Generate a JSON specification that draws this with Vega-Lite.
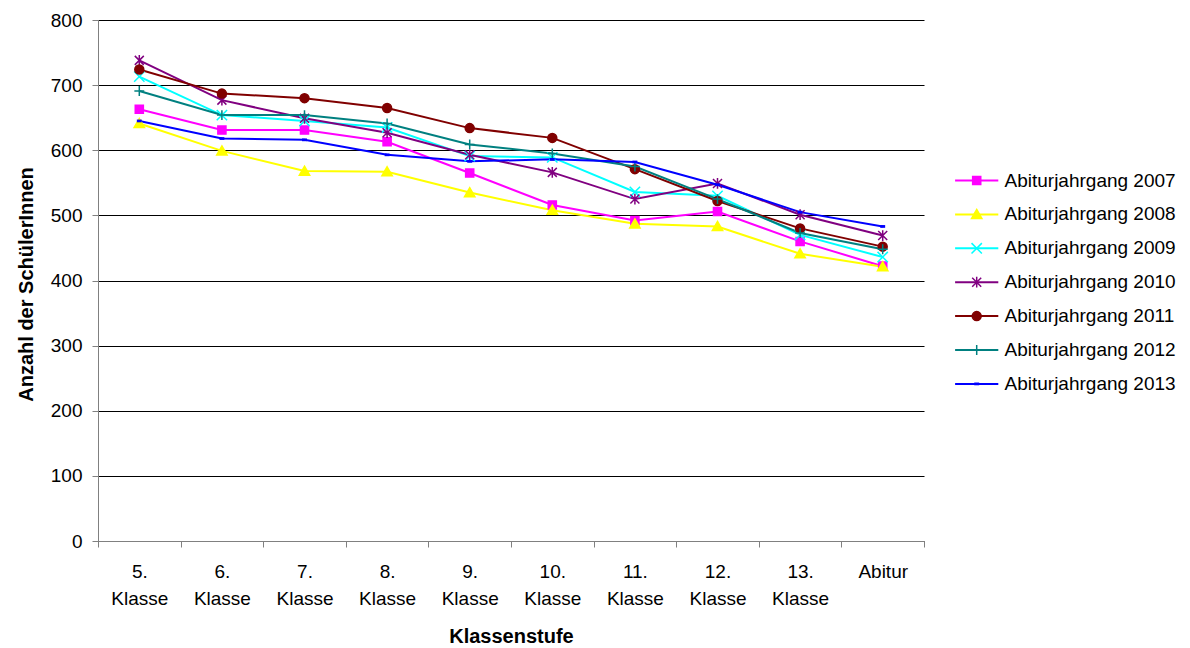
{
  "$schema": "https://vega.github.io/schema/vega-lite/v6.json",
  "width": 826,
  "height": 521,
  "autosize": {"type": "none"},
  "padding": {"left": 98, "top": 20, "right": 266, "bottom": 107},
  "background": "white",
  "config": {
    "font": "Liberation Sans",
    "view": {"stroke": null},
    "axis": {"labelColor": "black", "titleColor": "black", "labelFont": "Liberation Sans", "titleFont": "Liberation Sans"},
    "legend": {"labelFont": "Liberation Sans", "labelColor": "black", "labelLimit": 0}
  },
  "data": {
    "values": [
      {"Stufe": "5. Klasse", "Jahrgang": "Abiturjahrgang 2007", "Anzahl": 663},
      {"Stufe": "6. Klasse", "Jahrgang": "Abiturjahrgang 2007", "Anzahl": 631},
      {"Stufe": "7. Klasse", "Jahrgang": "Abiturjahrgang 2007", "Anzahl": 631},
      {"Stufe": "8. Klasse", "Jahrgang": "Abiturjahrgang 2007", "Anzahl": 613},
      {"Stufe": "9. Klasse", "Jahrgang": "Abiturjahrgang 2007", "Anzahl": 565},
      {"Stufe": "10. Klasse", "Jahrgang": "Abiturjahrgang 2007", "Anzahl": 516},
      {"Stufe": "11. Klasse", "Jahrgang": "Abiturjahrgang 2007", "Anzahl": 492},
      {"Stufe": "12. Klasse", "Jahrgang": "Abiturjahrgang 2007", "Anzahl": 506},
      {"Stufe": "13. Klasse", "Jahrgang": "Abiturjahrgang 2007", "Anzahl": 460},
      {"Stufe": "Abitur", "Jahrgang": "Abiturjahrgang 2007", "Anzahl": 422},
      {"Stufe": "5. Klasse", "Jahrgang": "Abiturjahrgang 2008", "Anzahl": 641},
      {"Stufe": "6. Klasse", "Jahrgang": "Abiturjahrgang 2008", "Anzahl": 599},
      {"Stufe": "7. Klasse", "Jahrgang": "Abiturjahrgang 2008", "Anzahl": 568},
      {"Stufe": "8. Klasse", "Jahrgang": "Abiturjahrgang 2008", "Anzahl": 567},
      {"Stufe": "9. Klasse", "Jahrgang": "Abiturjahrgang 2008", "Anzahl": 535},
      {"Stufe": "10. Klasse", "Jahrgang": "Abiturjahrgang 2008", "Anzahl": 508},
      {"Stufe": "11. Klasse", "Jahrgang": "Abiturjahrgang 2008", "Anzahl": 487},
      {"Stufe": "12. Klasse", "Jahrgang": "Abiturjahrgang 2008", "Anzahl": 483},
      {"Stufe": "13. Klasse", "Jahrgang": "Abiturjahrgang 2008", "Anzahl": 441},
      {"Stufe": "Abitur", "Jahrgang": "Abiturjahrgang 2008", "Anzahl": 421},
      {"Stufe": "5. Klasse", "Jahrgang": "Abiturjahrgang 2009", "Anzahl": 713},
      {"Stufe": "6. Klasse", "Jahrgang": "Abiturjahrgang 2009", "Anzahl": 654},
      {"Stufe": "7. Klasse", "Jahrgang": "Abiturjahrgang 2009", "Anzahl": 645},
      {"Stufe": "8. Klasse", "Jahrgang": "Abiturjahrgang 2009", "Anzahl": 635},
      {"Stufe": "9. Klasse", "Jahrgang": "Abiturjahrgang 2009", "Anzahl": 591},
      {"Stufe": "10. Klasse", "Jahrgang": "Abiturjahrgang 2009", "Anzahl": 589},
      {"Stufe": "11. Klasse", "Jahrgang": "Abiturjahrgang 2009", "Anzahl": 536},
      {"Stufe": "12. Klasse", "Jahrgang": "Abiturjahrgang 2009", "Anzahl": 530},
      {"Stufe": "13. Klasse", "Jahrgang": "Abiturjahrgang 2009", "Anzahl": 470},
      {"Stufe": "Abitur", "Jahrgang": "Abiturjahrgang 2009", "Anzahl": 436},
      {"Stufe": "5. Klasse", "Jahrgang": "Abiturjahrgang 2010", "Anzahl": 738},
      {"Stufe": "6. Klasse", "Jahrgang": "Abiturjahrgang 2010", "Anzahl": 677},
      {"Stufe": "7. Klasse", "Jahrgang": "Abiturjahrgang 2010", "Anzahl": 649},
      {"Stufe": "8. Klasse", "Jahrgang": "Abiturjahrgang 2010", "Anzahl": 627},
      {"Stufe": "9. Klasse", "Jahrgang": "Abiturjahrgang 2010", "Anzahl": 593},
      {"Stufe": "10. Klasse", "Jahrgang": "Abiturjahrgang 2010", "Anzahl": 566},
      {"Stufe": "11. Klasse", "Jahrgang": "Abiturjahrgang 2010", "Anzahl": 525},
      {"Stufe": "12. Klasse", "Jahrgang": "Abiturjahrgang 2010", "Anzahl": 549},
      {"Stufe": "13. Klasse", "Jahrgang": "Abiturjahrgang 2010", "Anzahl": 501},
      {"Stufe": "Abitur", "Jahrgang": "Abiturjahrgang 2010", "Anzahl": 469},
      {"Stufe": "5. Klasse", "Jahrgang": "Abiturjahrgang 2011", "Anzahl": 724},
      {"Stufe": "6. Klasse", "Jahrgang": "Abiturjahrgang 2011", "Anzahl": 687},
      {"Stufe": "7. Klasse", "Jahrgang": "Abiturjahrgang 2011", "Anzahl": 680},
      {"Stufe": "8. Klasse", "Jahrgang": "Abiturjahrgang 2011", "Anzahl": 665},
      {"Stufe": "9. Klasse", "Jahrgang": "Abiturjahrgang 2011", "Anzahl": 634},
      {"Stufe": "10. Klasse", "Jahrgang": "Abiturjahrgang 2011", "Anzahl": 619},
      {"Stufe": "11. Klasse", "Jahrgang": "Abiturjahrgang 2011", "Anzahl": 571},
      {"Stufe": "12. Klasse", "Jahrgang": "Abiturjahrgang 2011", "Anzahl": 522},
      {"Stufe": "13. Klasse", "Jahrgang": "Abiturjahrgang 2011", "Anzahl": 480},
      {"Stufe": "Abitur", "Jahrgang": "Abiturjahrgang 2011", "Anzahl": 452},
      {"Stufe": "5. Klasse", "Jahrgang": "Abiturjahrgang 2012", "Anzahl": 691},
      {"Stufe": "6. Klasse", "Jahrgang": "Abiturjahrgang 2012", "Anzahl": 654},
      {"Stufe": "7. Klasse", "Jahrgang": "Abiturjahrgang 2012", "Anzahl": 654},
      {"Stufe": "8. Klasse", "Jahrgang": "Abiturjahrgang 2012", "Anzahl": 641},
      {"Stufe": "9. Klasse", "Jahrgang": "Abiturjahrgang 2012", "Anzahl": 609},
      {"Stufe": "10. Klasse", "Jahrgang": "Abiturjahrgang 2012", "Anzahl": 595},
      {"Stufe": "11. Klasse", "Jahrgang": "Abiturjahrgang 2012", "Anzahl": 575},
      {"Stufe": "12. Klasse", "Jahrgang": "Abiturjahrgang 2012", "Anzahl": 525},
      {"Stufe": "13. Klasse", "Jahrgang": "Abiturjahrgang 2012", "Anzahl": 473},
      {"Stufe": "Abitur", "Jahrgang": "Abiturjahrgang 2012", "Anzahl": 448},
      {"Stufe": "5. Klasse", "Jahrgang": "Abiturjahrgang 2013", "Anzahl": 645},
      {"Stufe": "6. Klasse", "Jahrgang": "Abiturjahrgang 2013", "Anzahl": 618},
      {"Stufe": "7. Klasse", "Jahrgang": "Abiturjahrgang 2013", "Anzahl": 616},
      {"Stufe": "8. Klasse", "Jahrgang": "Abiturjahrgang 2013", "Anzahl": 593},
      {"Stufe": "9. Klasse", "Jahrgang": "Abiturjahrgang 2013", "Anzahl": 583},
      {"Stufe": "10. Klasse", "Jahrgang": "Abiturjahrgang 2013", "Anzahl": 586},
      {"Stufe": "11. Klasse", "Jahrgang": "Abiturjahrgang 2013", "Anzahl": 582},
      {"Stufe": "12. Klasse", "Jahrgang": "Abiturjahrgang 2013", "Anzahl": 547},
      {"Stufe": "13. Klasse", "Jahrgang": "Abiturjahrgang 2013", "Anzahl": 505},
      {"Stufe": "Abitur", "Jahrgang": "Abiturjahrgang 2013", "Anzahl": 483}
    ]
  },
  "encoding": {
    "x": {
      "field": "Stufe",
      "type": "ordinal",
      "bandPosition": 0.5,
      "scale": {"type": "band", "domain": ["5. Klasse", "6. Klasse", "7. Klasse", "8. Klasse", "9. Klasse", "10. Klasse", "11. Klasse", "12. Klasse", "13. Klasse", "Abitur"], "paddingInner": 0, "paddingOuter": 0},
      "axis": {
        "title": "Klassenstufe",
        "labelExpr": "split(datum.label, ' ')",
        "labelAngle": 0,
        "labelBaseline": "top",
        "labelLineHeight": 27,
        "labelFontSize": 19,
        "labelPadding": 15,
        "tickBand": "extent",
        "tickSize": 6,
        "tickColor": "#808080",
        "domainColor": "#808080",
        "domainWidth": 1,
        "grid": false,
        "titleFontSize": 20,
        "titleFontWeight": "bold",
        "titleY": 101,
        "titleBaseline": "alphabetic"
      }
    },
    "y": {
      "field": "Anzahl",
      "type": "quantitative",
      "scale": {"domain": [0, 800], "nice": false, "zero": true},
      "axis": {
        "title": "Anzahl der SchülerInnen",
        "values": [0, 100, 200, 300, 400, 500, 600, 700, 800],
        "grid": true,
        "gridColor": "black",
        "gridOpacity": 1,
        "gridWidth": 1,
        "tickSize": 6,
        "tickColor": "#808080",
        "domainColor": "#808080",
        "labelFontSize": 19,
        "labelPadding": 10,
        "labelFlush": false,
        "titleFontSize": 20,
        "titleFontWeight": "bold",
        "titleAngle": -90,
        "titleX": -66,
        "titleY": 264,
        "titleAlign": "center",
        "titleBaseline": "alphabetic"
      }
    }
  },
  "layer": [
    {
      "mark": {"type": "line", "strokeWidth": 2},
      "encoding": {
        "stroke": {
          "field": "Jahrgang",
          "type": "nominal",
          "scale": {"range": ["#FF00FF", "#FFFF00", "#00FFFF", "#800080", "#800000", "#008080", "#0000FF"]},
          "legend": {
            "orient": "none",
            "legendX": 869.2,
            "legendY": 151,
            "title": null,
            "padding": 0,
            "symbolType": "M-4.8,0L4.8,0",
            "symbolSize": 81,
            "symbolStrokeWidth": 2,
            "labelFontSize": 19,
            "labelOffset": 18.3,
            "labelOpacity": 0,
            "labelLimit": 0,
            "rowPadding": 13.9
          }
        }
      }
    },
    {
      "mark": {"type": "point", "filled": false, "size": 81, "strokeWidth": 1.5, "opacity": 1, "fillOpacity": 1, "strokeOpacity": 1},
      "encoding": {
        "color": {
          "field": "Jahrgang",
          "type": "nominal",
          "scale": {"domain": ["Abiturjahrgang 2007", "Abiturjahrgang 2008", "Abiturjahrgang 2009", "Abiturjahrgang 2010", "Abiturjahrgang 2011", "Abiturjahrgang 2012", "Abiturjahrgang 2013"], "range": ["#FF00FF", "#FFFF00", "#00FFFF", "#800080", "#800000", "#008080", "#0000FF"]},
          "legend": {"orient": "none", "legendX": 869.2, "legendY": 151, "title": null, "padding": 0, "symbolSize": 81, "symbolStrokeWidth": 1.5, "symbolOpacity": 1, "labelFontSize": 19, "labelOffset": 18.3, "labelLimit": 0, "rowPadding": 13.9}
        },
        "fill": {
          "field": "Jahrgang",
          "type": "nominal",
          "scale": {"domain": ["Abiturjahrgang 2007", "Abiturjahrgang 2008", "Abiturjahrgang 2009", "Abiturjahrgang 2010", "Abiturjahrgang 2011", "Abiturjahrgang 2012", "Abiturjahrgang 2013"], "range": ["#FF00FF", "#FFFF00", "#00FFFF", "#800080", "#800000", "#008080", "#0000FF"]},
          "legend": {"orient": "none", "legendX": 869.2, "legendY": 151, "title": null, "padding": 0, "symbolSize": 81, "symbolStrokeWidth": 1.5, "symbolOpacity": 1, "labelFontSize": 19, "labelOffset": 18.3, "labelLimit": 0, "rowPadding": 13.9}
        },
        "shape": {
          "field": "Jahrgang",
          "type": "nominal",
          "scale": {"domain": ["Abiturjahrgang 2007", "Abiturjahrgang 2008", "Abiturjahrgang 2009", "Abiturjahrgang 2010", "Abiturjahrgang 2011", "Abiturjahrgang 2012", "Abiturjahrgang 2013"],
            "range": [
              "M-0.9,-0.9L0.9,-0.9L0.9,0.9L-0.9,0.9Z",
              "M0,-1.1L1.15,0.9L-1.15,0.9Z",
              "M-1.15,-1.15L1.15,1.15M-1.15,1.15L1.15,-1.15",
              "M-1,-1L1,1M-1,1L1,-1M0,-1.2L0,1.2",
              "M1,0A1,1,0,1,1,-1,0A1,1,0,1,1,1,0Z",
              "M-1.1,0L1.1,0M0,-1.1L0,1.1",
              "M-0.38,-0.14L0.38,-0.14L0.38,0.14L-0.38,0.14Z"
            ]},
          "legend": {"orient": "none", "legendX": 869.2, "legendY": 151, "title": null, "padding": 0, "symbolSize": 81, "symbolStrokeWidth": 1.5, "symbolOpacity": 1, "labelFontSize": 19, "labelOffset": 18.3, "labelLimit": 0, "rowPadding": 13.9}
        }
      }
    }
  ]
}
